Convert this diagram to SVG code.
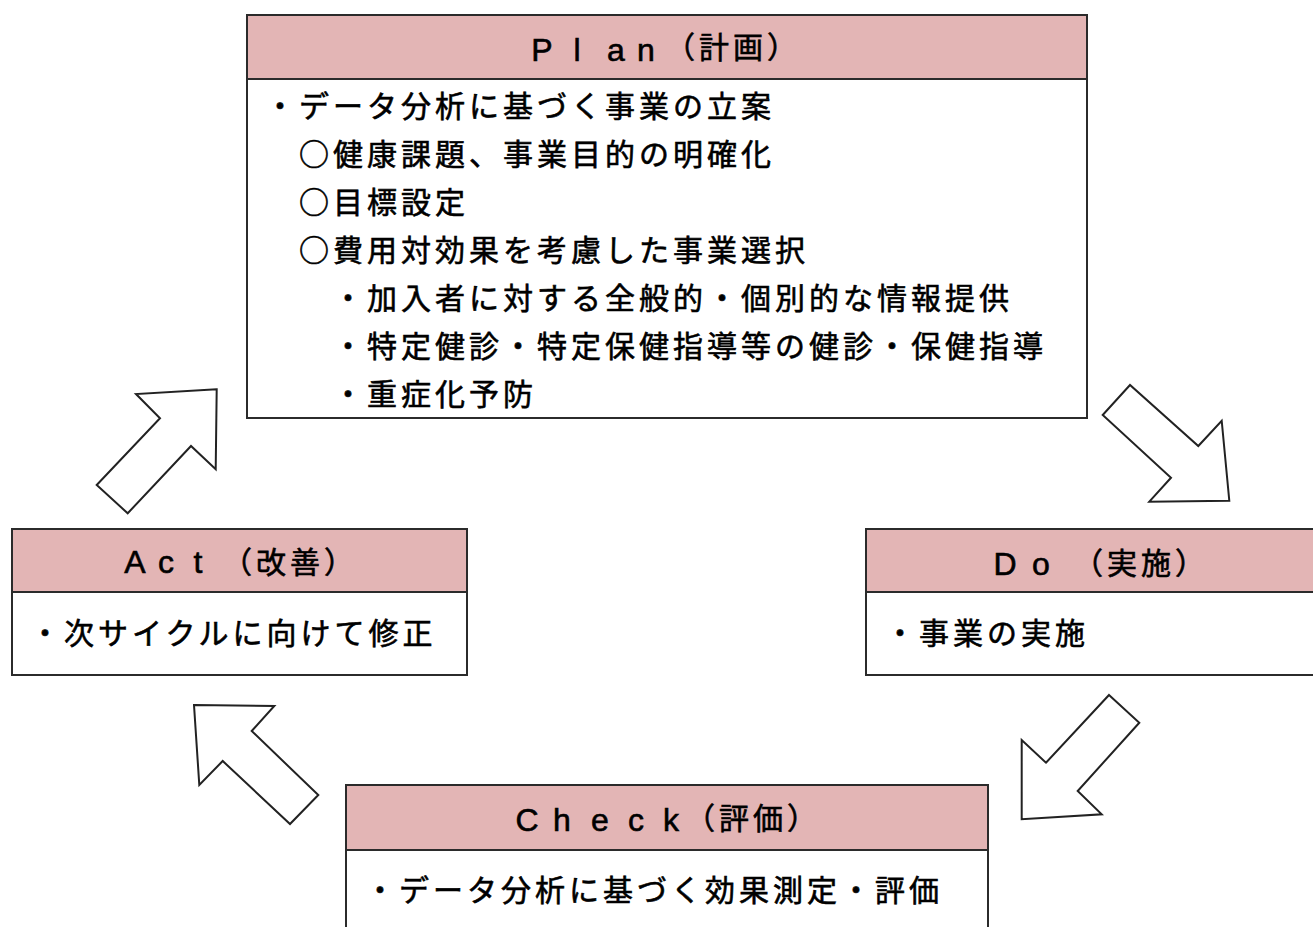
<svg xmlns="http://www.w3.org/2000/svg" width="1313" height="927" viewBox="0 0 1313 927">
<style>
.box{fill:#fff;stroke:#2b2b2b;stroke-width:2}
.hdr{fill:#e3b5b5;stroke:#2b2b2b;stroke-width:2}
.jp{font-family:"Noto Sans CJK JP","Noto Sans CJK SC",sans-serif;font-size:30px;fill:#000;stroke:#000;stroke-width:0.6px;letter-spacing:4px}
.lat{font-family:"Liberation Sans",Arial,sans-serif;font-size:32px;fill:#000;stroke:#000;stroke-width:0.6px;text-anchor:middle}
.arrow{fill:#fff;stroke:#222;stroke-width:2;stroke-linejoin:miter}
</style>
<rect width="1313" height="927" fill="#fff"/>
<g id="connectors">
<polygon class="arrow" points="216.7,389.3 136,394 160,418.3 96.7,485 127.7,513.3 191,446 215.7,469.3"/>
<polygon class="arrow" points="1130,385 1102.7,415 1171,477.7 1149.3,501.7 1229.3,500.7 1221.7,420.7 1198.3,446"/>
<polygon class="arrow" points="1109,695 1139.3,722.7 1077.7,791 1101.7,814.3 1021.7,819.3 1021.7,740 1046,762.7"/>
<polygon class="arrow" points="194,705 274.3,706 251.7,731 318.3,795 290,824 222.7,761 199.3,785"/>
</g>
<g id="plan">
<rect class="box" x="247" y="15" width="840" height="403"/>
<rect class="hdr" x="247" y="15" width="840" height="64"/>
<text class="lat" x="542" y="61">P</text>
<text class="lat" x="577" y="61">l</text>
<text class="lat" x="616" y="61">a</text>
<text class="lat" x="646" y="61">n</text>
<text class="jp" x="665" y="58">（計画）</text>
<text class="jp" x="265" y="117">・データ分析に基づく事業の立案</text>
<text class="jp" x="299" y="165">○健康課題、事業目的の明確化</text>
<text class="jp" x="299" y="213">○目標設定</text>
<text class="jp" x="299" y="261">○費用対効果を考慮した事業選択</text>
<text class="jp" x="333" y="309">・加入者に対する全般的・個別的な情報提供</text>
<text class="jp" x="333" y="357">・特定健診・特定保健指導等の健診・保健指導</text>
<text class="jp" x="333" y="405">・重症化予防</text>
</g>
<g id="do">
<rect class="box" x="866" y="529" width="460" height="146"/>
<rect class="hdr" x="866" y="529" width="460" height="63"/>
<text class="lat" x="1005" y="575">D</text>
<text class="lat" x="1041" y="575">o</text>
<text class="jp" x="1073" y="574">（実施）</text>
<text class="jp" x="885" y="644">・事業の実施</text>
</g>
<g id="check">
<rect class="box" x="346" y="785" width="642" height="160"/>
<rect class="hdr" x="346" y="785" width="642" height="65"/>
<text class="lat" x="527" y="831">C</text>
<text class="lat" x="562" y="831">h</text>
<text class="lat" x="600" y="831">e</text>
<text class="lat" x="636" y="831">c</text>
<text class="lat" x="671" y="831">k</text>
<text class="jp" x="685" y="829">（評価）</text>
<text class="jp" x="365" y="901">・データ分析に基づく効果測定・評価</text>
</g>
<g id="act">
<rect class="box" x="12" y="529" width="455" height="146"/>
<rect class="hdr" x="12" y="529" width="455" height="63"/>
<text class="lat" x="135" y="573">A</text>
<text class="lat" x="166" y="573">c</text>
<text class="lat" x="198" y="573">t</text>
<text class="jp" x="222" y="573">（改善）</text>
<text class="jp" x="30" y="644">・次サイクルに向けて修正</text>
</g>
</svg>
